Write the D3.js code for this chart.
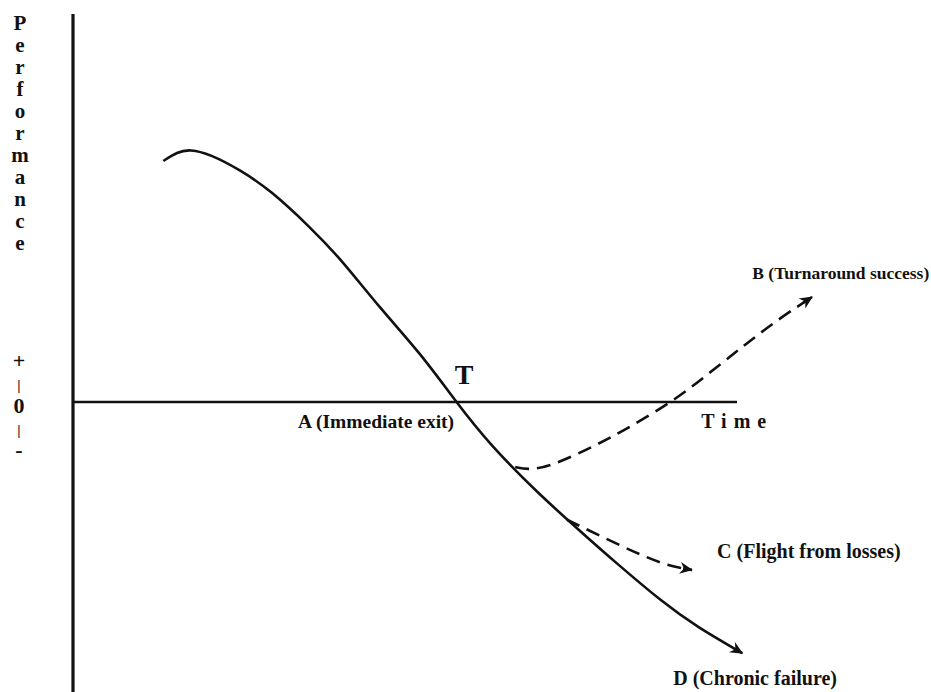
<!DOCTYPE html>
<html>
<head>
<meta charset="utf-8">
<script src="https://cdn.jsdelivr.net/npm/d3@7"></script>
<style>
  body { margin: 0; background: #fff; }
  text { font-family: "Liberation Serif", "Times New Roman", serif; fill: #111; }
</style>
</head>
<body>
<svg id="chart"></svg>
<script>
// time (0..100 along the axis) and performance (+100 .. -100)
const declineTime = [13.6, 15.7, 17.6, 20.6, 25.2, 29.7, 35.7, 40.2, 46.2, 52.3, 57.7, 62.8, 70.3, 77.4, 81.3, 88.9, 94.0, 100.8];
const declinePerf = [83.1, 86.2, 87.2, 85.5, 80.0, 73.1, 60.3, 49.7, 32.4, 16.9, 0, -14.8, -32.1, -46.6, -54.5, -69.3, -77.6, -86.6];

const turnTime = [66.6, 68.4, 71.8, 78.9, 83.9, 90.7, 96.4, 101.5, 106.5, 111.3];
const turnPerf = [-22.4, -23.4, -22.4, -14.8, -8.6, 0.7, 11.0, 20.3, 29.0, 36.2];

const flightTime = [74.4, 81.3, 88.8, 93.2];
const flightPerf = [-40.6, -48.3, -56.2, -57.9];

const yLetters = ["P", "e", "r", "f", "o", "r", "m", "a", "n", "c", "e"];
const signLabels = ["+", "|", "0", "|", "-"];
const outcomeLabels = [
  {text: "A (Immediate exit)", t: 33.9, p: -9.0, size: 19.5},
  {text: "B (Turnaround success)", t: 102.3, p: 42.4, size: 17.5},
  {text: "C (Flight from losses)", t: 97.0, p: -53.8, size: 20},
  {text: "D (Chronic failure)", t: 90.4, p: -97.7, size: 20}
];

const width = 931, height = 692;
const svg = d3.select("#chart").attr("width", width).attr("height", height);

const x = d3.scaleLinear().domain([0, 100]).range([73, 737]);
const y = d3.scaleLinear().domain([-100, 100]).range([692, 112]);

// arrow heads
const defs = svg.append("defs");
defs.append("marker")
    .attr("id", "arrow")
    .attr("viewBox", "-2 -7 18 14")
    .attr("refX", 12).attr("refY", 0)
    .attr("markerWidth", 18).attr("markerHeight", 14)
    .attr("markerUnits", "userSpaceOnUse")
    .attr("orient", "auto")
  .append("path")
    .attr("d", "M0,-6 L13,0 L0,6 L4,0 Z")
    .attr("fill", "#111");

// axes
svg.append("line")
    .attr("x1", x(0)).attr("x2", x(0))
    .attr("y1", 14).attr("y2", height)
    .attr("stroke", "#111").attr("stroke-width", 3.2);
svg.append("line")
    .attr("x1", x(0)).attr("x2", x(100))
    .attr("y1", y(0)).attr("y2", y(0))
    .attr("stroke", "#111").attr("stroke-width", 2.4);

// vertical axis title, one letter per row
svg.selectAll(".ylet")
  .data(yLetters)
  .join("text")
    .attr("class", "ylet")
    .attr("x", 20)
    .attr("y", (d, i) => 30 + i * 22)
    .attr("text-anchor", "middle")
    .style("font-size", "21px")
    .style("font-weight", "bold")
    .text(d => d);

svg.selectAll(".sign")
  .data(signLabels)
  .join("text")
    .attr("class", "sign")
    .attr("x", 19)
    .attr("y", (d, i) => 368 + i * 22.3)
    .attr("text-anchor", "middle")
    .style("font-size", d => d === "|" ? "15px" : "22px")
    .style("font-weight", "bold")
    .text(d => d);

const line = d3.line()
    .x(d => x(d[0]))
    .y(d => y(d[1]))
    .curve(d3.curveBasis);

const curves = [
  {t: declineTime, p: declinePerf, dash: null},
  {t: turnTime, p: turnPerf, dash: "14,8"},
  {t: flightTime, p: flightPerf, dash: "14,8"}
];

svg.selectAll(".curve")
  .data(curves)
  .join("path")
    .attr("class", "curve")
    .attr("d", c => line(d3.zip(c.t, c.p)))
    .attr("fill", "none")
    .attr("stroke", "#111")
    .attr("stroke-width", 2.6)
    .attr("stroke-dasharray", c => c.dash)
    .attr("marker-end", (c, i) => i === 0 ? "url(#arrow)" : null);

// arrowheads for dashed curves drawn as separate short segments so the dash does not cut them
svg.selectAll(".tip")
  .data(curves.slice(1))
  .join("path")
    .attr("class", "tip")
    .attr("d", c => {
      const n = c.t.length;
      return line([[c.t[n - 2] + (c.t[n - 1] - c.t[n - 2]) * 0.7, c.p[n - 2] + (c.p[n - 1] - c.p[n - 2]) * 0.7], [c.t[n - 1], c.p[n - 1]]]);
    })
    .attr("fill", "none")
    .attr("stroke", "#111")
    .attr("stroke-width", 2.6)
    .attr("marker-end", "url(#arrow)");

svg.append("text")
    .attr("x", x(58.9)).attr("y", y(6.2))
    .attr("text-anchor", "middle")
    .style("font-size", "28px")
    .style("font-weight", "bold")
    .text("T");

svg.append("text")
    .attr("x", x(94.6)).attr("y", y(-8.8))
    .attr("text-anchor", "start")
    .style("font-size", "20px")
    .style("font-weight", "bold")
    .style("letter-spacing", "7px")
    .text("Time");

svg.selectAll(".outcome")
  .data(outcomeLabels)
  .join("text")
    .attr("class", "outcome")
    .attr("x", d => x(d.t))
    .attr("y", d => y(d.p))
    .style("font-size", d => d.size + "px")
    .style("font-weight", "bold")
    .text(d => d.text);
</script>
</body>
</html>
